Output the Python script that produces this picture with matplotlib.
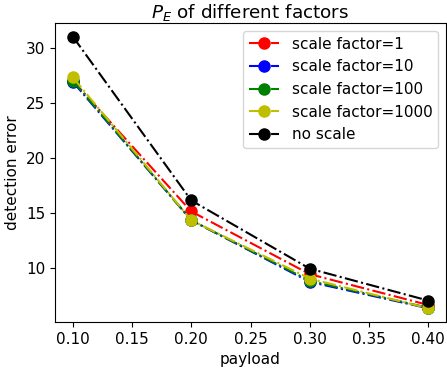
import matplotlib
matplotlib.use('Agg')
import matplotlib.pyplot as plt

# payload values on x axis
payload = [0.1, 0.2, 0.3, 0.4]

# detection error for each scale factor
err_sf1 = [27.0, 15.1, 9.4, 6.6]
err_sf10 = [26.9, 14.3, 8.7, 6.3]
err_sf100 = [27.0, 14.3, 8.8, 6.35]
err_sf1000 = [27.3, 14.3, 9.0, 6.3]
err_noscale = [31.0, 16.1, 9.9, 7.0]

plt.rcParams['font.size'] = 11

fig = plt.figure(figsize=(4.47, 3.70), dpi=100)
ax = fig.add_axes([0.123, 0.130, 0.875, 0.808])

ax.plot(payload, err_sf1, 'r-.', marker='o', markersize=8, label='scale factor=1')
ax.plot(payload, err_sf10, 'b-.', marker='o', markersize=8, label='scale factor=10')
ax.plot(payload, err_sf100, 'g-.', marker='o', markersize=8, label='scale factor=100')
ax.plot(payload, err_sf1000, 'y-.', marker='o', markersize=8, label='scale factor=1000')
ax.plot(payload, err_noscale, 'k-.', marker='o', markersize=8, label='no scale')

ax.set_xlabel('payload')
ax.set_ylabel('detection error')
ax.set_title('$P_E$ of different factors', pad=3.5)
ax.legend(loc='upper right')

fig.savefig('out.png', dpi=100)
